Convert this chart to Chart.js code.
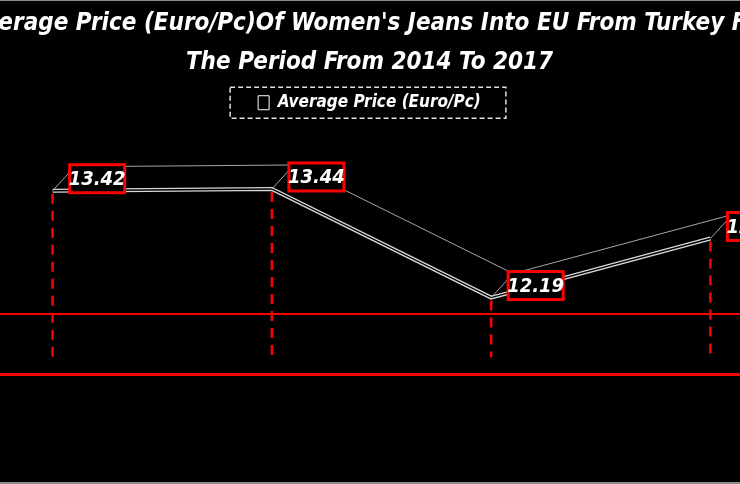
<!DOCTYPE html>
<html>
<head>
<meta charset="utf-8">
<script src="https://cdn.jsdelivr.net/npm/chart.js@4.4.0/dist/chart.umd.min.js"></script>
<style>
  html, body { margin: 0; padding: 0; background: #000; overflow: hidden; }
  body { width: 740px; height: 484px; position: relative; }
  #chart { position: absolute; left: -81px; top: 0; }
  #frame { position: absolute; left: 0; top: 0; width: 740px; height: 481px; border-top: 1px solid #8c8c8c; border-bottom: 2px solid #8c8c8c; pointer-events: none; }
</style>
</head>
<body>
<canvas id="chart" width="901" height="484"></canvas>
<div id="frame"></div>
<script>
// values
const categories = ['2014', '2015', '2016', '2017'];
const avgPrice = [13.42, 13.44, 12.19, 12.87];
const seriesName = 'Average Price (Euro/Pc)';
const titleLines = [
  "Average Price (Euro/Pc)Of Women's Jeans Into EU From Turkey For",
  'The Period From 2014 To 2017'
];
const gridValues = [12];
const floorValue = 11.5;
const yMin = 11.31;
const yMax = 14.22;

const FONT = '"Liberation Sans Narrow", "DejaVu Sans Condensed", "Liberation Sans", sans-serif';
const DEPTH = { x: 22, y: -24 };

// fake 3D ribbon, drop lines and boxed labels, all taken from the line's own points
const ribbonPlugin = {
  id: 'ribbon',
  afterDatasetsDraw(chart) {
    const { ctx } = chart;
    const pts = chart.getDatasetMeta(0).data;
    const yScale = chart.scales.y;
    const floorY = yScale.getPixelForValue(floorValue);
    ctx.save();

    // split the thick front edge into two thin lines
    ctx.strokeStyle = '#000';
    ctx.lineWidth = 1.4;
    ctx.beginPath();
    pts.forEach((p, i) => (i ? ctx.lineTo(p.x, p.y) : ctx.moveTo(p.x, p.y)));
    ctx.stroke();

    // back edge + connectors
    ctx.strokeStyle = '#a6a6a6';
    ctx.lineWidth = 1;
    ctx.beginPath();
    pts.forEach((p, i) => {
      const bx = p.x + DEPTH.x, by = p.y + DEPTH.y;
      if (i) ctx.lineTo(bx, by); else ctx.moveTo(bx, by);
    });
    ctx.stroke();
    pts.forEach(p => {
      ctx.beginPath();
      ctx.moveTo(p.x, p.y);
      ctx.lineTo(p.x + DEPTH.x, p.y + DEPTH.y);
      ctx.stroke();
    });

    // red drop lines
    ctx.strokeStyle = '#ff0000';
    ctx.lineWidth = 2.5;
    ctx.setLineDash([10, 7]);
    pts.forEach(p => {
      ctx.beginPath();
      ctx.moveTo(p.x, p.y + 3);
      ctx.lineTo(p.x, floorY);
      ctx.stroke();
    });
    ctx.setLineDash([]);

    // boxed data labels
    ctx.font = 'italic bold 20px ' + FONT;
    ctx.textAlign = 'center';
    ctx.textBaseline = 'middle';
    pts.forEach((p, i) => {
      const w = 55, h = 28;
      const bx = p.x + 17, by = p.y - 12 - h / 2;
      ctx.fillStyle = '#000';
      ctx.fillRect(bx, by, w, h);
      ctx.strokeStyle = '#ff0000';
      ctx.lineWidth = 3;
      ctx.strokeRect(bx, by, w, h);
      ctx.fillStyle = '#fff';
      ctx.fillText(avgPrice[i].toFixed(2), bx + w / 2, by + h / 2 + 1);
    });

    // dashed frame round the legend
    const hb = chart.legend.legendHitBoxes[0];
    if (hb) {
      ctx.strokeStyle = '#e0e0e0';
      ctx.lineWidth = 1.5;
      ctx.setLineDash([5, 3]);
      ctx.strokeRect(hb.left - 28, hb.top + hb.height / 2 - 15.5, hb.width + 53, 31);
    }
    ctx.restore();
  }
};

new Chart(document.getElementById('chart'), {
  type: 'line',
  data: {
    labels: categories,
    datasets: [{
      label: seriesName,
      data: avgPrice,
      borderColor: '#d9d9d9',
      borderWidth: 4,
      pointRadius: 0,
      tension: 0,
      fill: false
    }]
  },
  options: {
    responsive: false,
    devicePixelRatio: 1,
    animation: false,
    layout: { padding: { left: 0, right: 0, top: 0, bottom: 110 } },
    plugins: {
      title: {
        display: true,
        text: titleLines,
        color: '#fff',
        font: { family: FONT, size: 24, weight: 'bold', style: 'italic', lineHeight: 1.63 },
        padding: { top: 4, bottom: 0 }
      },
      legend: {
        display: true,
        labels: {
          color: '#fff',
          font: { family: FONT, size: 17, weight: 'bold', style: 'italic' },
          boxWidth: 11,
          boxHeight: 14,
          padding: 12,
          generateLabels: () => [{
            text: seriesName,
            fillStyle: '#000',
            strokeStyle: '#fff',
            fontColor: '#fff',
            lineWidth: 1,
            datasetIndex: 0
          }]
        }
      },
      tooltip: { enabled: false }
    },
    scales: {
      x: {
        offset: true,
        ticks: { display: false },
        grid: { display: false, drawTicks: false },
        border: { display: true, color: '#ff0000', width: 3 }
      },
      y: {
        min: yMin,
        max: yMax,
        afterBuildTicks: (scale) => { scale.ticks = gridValues.map(v => ({ value: v })); },
        afterFit: (scale) => { scale.width = 24; },
        ticks: { display: false },
        grid: { color: '#ff0000', lineWidth: 2, drawTicks: false },
        border: { display: false }
      }
    }
  },
  plugins: [ribbonPlugin]
});
</script>
</body>
</html>
